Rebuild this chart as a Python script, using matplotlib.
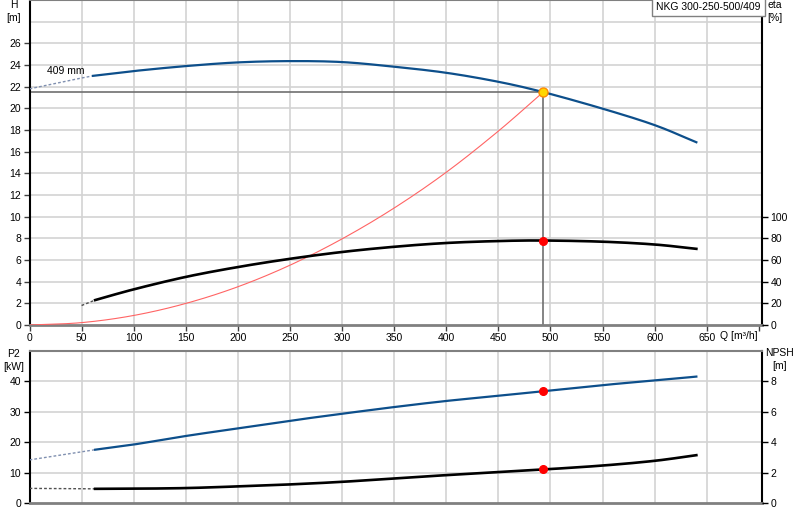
import matplotlib
matplotlib.use("Agg")
import matplotlib.pyplot as plt
from matplotlib.ticker import FixedLocator
import numpy as np

# ---------------- data ----------------
q_head = [61, 100, 150, 200, 250, 300, 350, 400, 450, 493, 550, 600, 640]
h_head = [23.0, 23.44, 23.9, 24.24, 24.36, 24.27, 23.84, 23.28, 22.45, 21.5, 19.97, 18.45, 16.87]
q_head_ext = [0, 50, 61]
h_head_ext = [21.8, 22.8, 23.0]

q_sys = [0, 50, 100, 150, 200, 250, 300, 350, 400, 450, 493]
h_sys = [0, 0.22, 0.88, 1.99, 3.53, 5.52, 7.95, 10.8, 14.1, 17.9, 21.5]

q_eta = [63, 100, 150, 200, 250, 300, 350, 400, 450, 493, 550, 600, 640]
eta = [23, 32.9, 44.4, 53.5, 61.1, 67.4, 72.2, 75.7, 77.5, 78.0, 76.9, 74.3, 70.3]
q_eta_ext = [50, 63]
eta_ext = [18, 23]

q_p2 = [63, 100, 150, 200, 250, 300, 350, 400, 450, 493, 550, 600, 640]
p2 = [17.5, 19.2, 22.0, 24.5, 27.0, 29.3, 31.5, 33.5, 35.2, 36.7, 38.7, 40.2, 41.5]
q_p2_ext = [0, 50, 63]
p2_ext = [14.15, 16.8, 17.5]

q_npsh = [63, 100, 150, 200, 250, 300, 350, 400, 450, 493, 550, 600, 640]
npsh = [0.93, 0.94, 0.98, 1.09, 1.22, 1.39, 1.61, 1.83, 2.03, 2.2, 2.46, 2.77, 3.14]
q_npsh_ext = [0, 63]
npsh_ext = [0.96, 0.93]

duty_q = 493
duty_h = 21.5
duty_eta = 78.0
duty_p2 = 36.7
duty_npsh = 2.2

q_ticks = [0, 50, 100, 150, 200, 250, 300, 350, 400, 450, 500, 550, 600, 650]
h_ticks = [0, 2, 4, 6, 8, 10, 12, 14, 16, 18, 20, 22, 24, 26]
eta_ticks = [0, 20, 40, 60, 80, 100]
p2_ticks = [0, 10, 20, 30, 40]
npsh_ticks = [0, 2, 4, 6, 8]

title = "NKG 300-250-500/409"


def smooth(xs, ys, n=20):
    """Catmull-Rom curve through the given points (display smoothing only)."""
    x = np.asarray(xs, float)
    y = np.asarray(ys, float)
    if len(x) < 3:
        return x, y
    px = np.concatenate([[2 * x[0] - x[1]], x, [2 * x[-1] - x[-2]]])
    py = np.concatenate([[2 * y[0] - y[1]], y, [2 * y[-1] - y[-2]]])
    ox, oy = [], []
    t = np.linspace(0, 1, n, endpoint=False)
    for i in range(1, len(px) - 2):
        for arr, out in ((px, ox), (py, oy)):
            p0, p1, p2_, p3 = arr[i - 1], arr[i], arr[i + 1], arr[i + 2]
            out.extend(0.5 * ((2 * p1) + (-p0 + p2_) * t +
                              (2 * p0 - 5 * p1 + 4 * p2_ - p3) * t ** 2 +
                              (-p0 + 3 * p1 - 3 * p2_ + p3) * t ** 3))
    ox.append(x[-1])
    oy.append(y[-1])
    return np.array(ox), np.array(oy)


# ---------------- style ----------------
BLUE = "#0d4f8b"
GRID = "#d3d3d3"
FS = 7.5
plt.rcParams['font.family'] = ['Liberation Sans', 'DejaVu Sans']

fig = plt.figure(figsize=(8, 5.2), dpi=100)
W, H = 800, 520
L, R = 29.5, 762
ax = fig.add_axes([L / W, 1 - 325 / H, (R - L) / W, 325 / H])
axb = fig.add_axes([L / W, 1 - 503 / H, (R - L) / W, (503 - 350.7) / H])

XMAX = 703

for a in (ax, axb):
    a.set_xlim(0, XMAX)
    a.set_facecolor("white")
    for x in q_ticks[1:]:
        a.axvline(x, color=GRID, lw=1.2, zorder=0)
    a.spines['left'].set_color("black")
    a.spines['left'].set_linewidth(1.5)
    a.spines['right'].set_color("black")
    a.spines['right'].set_linewidth(1.5)
    a.spines['top'].set_color("#808080")
    a.spines['top'].set_linewidth(1.5)
    a.spines['bottom'].set_color("#808080")
    a.spines['bottom'].set_linewidth(2)

# ---- top panel ----
ax.set_ylim(0, 30)
for y in [2, 4, 6, 8, 10, 12, 14, 16, 18, 20, 22, 24, 26, 28]:
    ax.axhline(y, color=GRID, lw=1.2, zorder=0)
ax.xaxis.set_major_locator(FixedLocator(q_ticks + [700]))
ax.set_xticklabels([str(t) for t in q_ticks] + [""])
ax.yaxis.set_major_locator(FixedLocator(h_ticks))
ax.set_yticklabels([str(t) for t in h_ticks])
ax.tick_params(axis='both', direction='out', length=4, width=1, labelsize=FS, pad=2,
               color="#404040")

ax.plot(q_head_ext, h_head_ext, color="#8090b0", lw=1, ls=(0, (2, 1.5)), zorder=3)
ax.plot(*smooth(q_head, h_head), color=BLUE, lw=1.6, zorder=4)
ax.plot(*smooth(q_sys, h_sys), color="#ff6464", lw=0.8, zorder=3)
ax.plot([0, duty_q], [duty_h, duty_h], color="#707070", lw=1.2, zorder=2)
ax.plot([duty_q, duty_q], [0, duty_h], color="#707070", lw=1.2, zorder=2)
ax.plot([duty_q], [duty_h], 'o', ms=6.5, mfc="#ffd700", mec="#ff8c00", mew=1, zorder=6)
ax.text(17, 23.45, "409 mm", fontsize=FS, ha='left', va='center')

axe = ax.twinx()
axe.set_ylim(0, 300)
axe.set_xlim(0, XMAX)
axe.yaxis.set_major_locator(FixedLocator(eta_ticks))
axe.set_yticklabels([str(t) for t in eta_ticks])
axe.tick_params(axis='y', direction='out', length=4, width=1, labelsize=FS, pad=2)
for s in axe.spines.values():
    s.set_visible(False)
axe.plot(q_eta_ext, eta_ext, color="#505050", lw=1, ls=(0, (2, 1.5)), zorder=3)
axe.plot(*smooth(q_eta, eta), color="black", lw=1.9, zorder=4)
axe.plot([duty_q], [duty_eta], 'o', ms=5.5, color="red", zorder=6)

ax.text(-15, 30, "H\n[m]", fontsize=FS, ha='center', va='top', linespacing=1.4)
axe.text(XMAX + 5, 300, "eta\n[%]", fontsize=FS, ha='left', va='top', linespacing=1.4)
ax.text(699, -0.55, "Q [m³/h]", fontsize=FS, ha='right', va='top')
ax.text(XMAX - 1, 29.85, title, fontsize=FS, ha='right', va='top',
        bbox=dict(boxstyle='square,pad=0.4', fc='white', ec='#808080', lw=1), zorder=10)

# ---- bottom panel ----
axb.set_ylim(0, 50)
for y in [10, 20, 30, 40]:
    axb.axhline(y, color=GRID, lw=1.2, zorder=0)
axb.xaxis.set_major_locator(FixedLocator([]))
axb.yaxis.set_major_locator(FixedLocator(p2_ticks))
axb.set_yticklabels([str(t) for t in p2_ticks])
axb.tick_params(axis='y', direction='out', length=4, width=1, labelsize=FS, pad=2)

axb.plot(q_p2_ext, p2_ext, color="#8090b0", lw=1, ls=(0, (2, 1.5)), zorder=3)
axb.plot(*smooth(q_p2, p2), color=BLUE, lw=1.6, zorder=4)
axb.plot([duty_q], [duty_p2], 'o', ms=5.5, color="red", zorder=6)

axn = axb.twinx()
axn.set_ylim(0, 10)
axn.set_xlim(0, XMAX)
axn.yaxis.set_major_locator(FixedLocator(npsh_ticks))
axn.set_yticklabels([str(t) for t in npsh_ticks])
axn.tick_params(axis='y', direction='out', length=4, width=1, labelsize=FS, pad=2)
for s in axn.spines.values():
    s.set_visible(False)
axn.plot(q_npsh_ext, npsh_ext, color="#505050", lw=1, ls=(0, (2, 1.5)), zorder=3)
axn.plot(*smooth(q_npsh, npsh), color="black", lw=1.9, zorder=4)
axn.plot([duty_q], [duty_npsh], 'o', ms=5.5, color="red", zorder=6)

axb.text(-15, 50.5, "P2\n[kW]", fontsize=FS, ha='center', va='top', linespacing=1.4)
axn.text(XMAX + 17, 10.2, "NPSH\n[m]", fontsize=FS, ha='center', va='top', linespacing=1.4)

fig.savefig("out.png", dpi=100, facecolor="white")
